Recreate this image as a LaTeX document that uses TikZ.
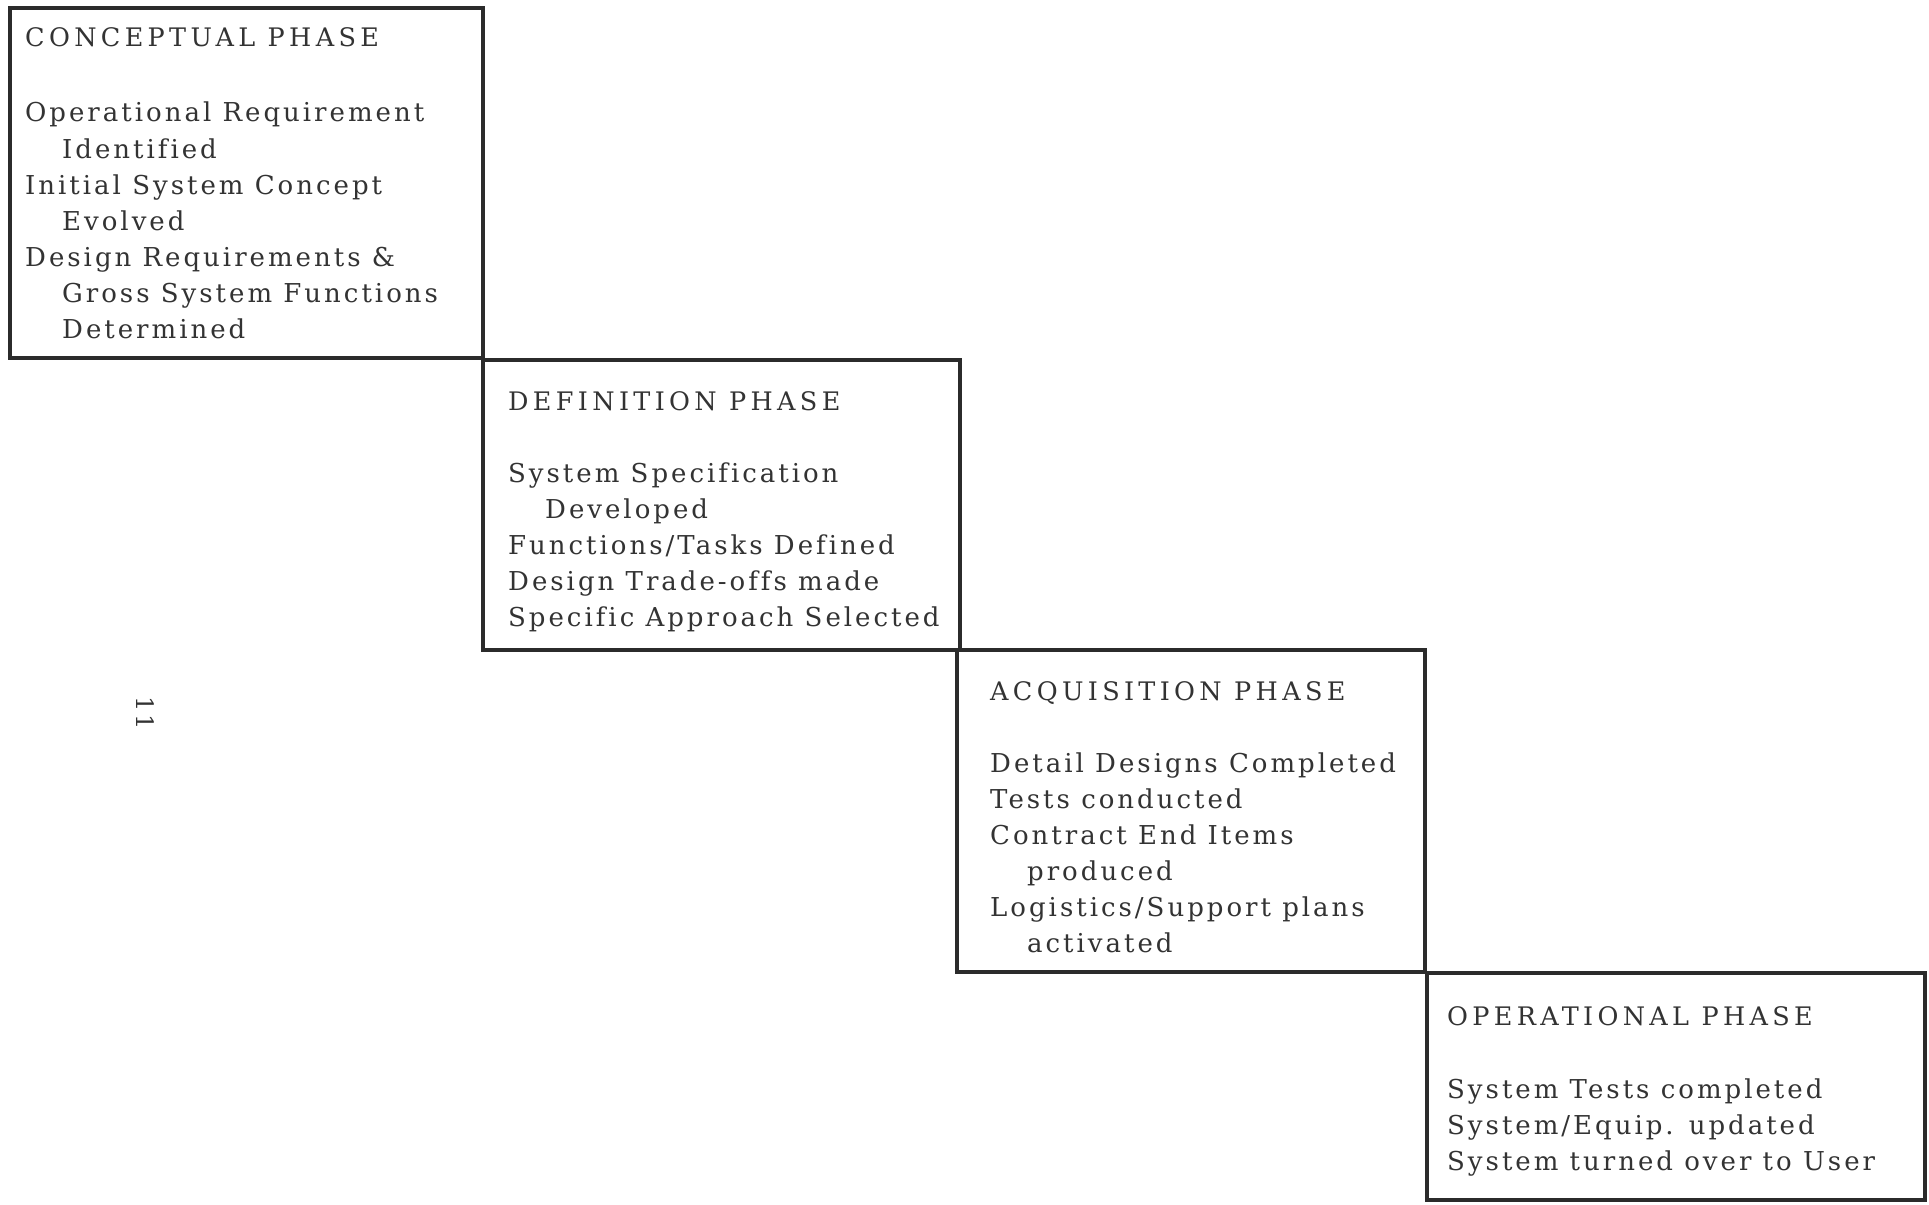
\documentclass[tikz,border=0pt]{standalone}
\usepackage{fontspec}
\setmainfont{DejaVu Serif}
\newfontfamily\bodyfont[LetterSpace=11.5,Ligatures=NoCommon]{DejaVu Serif}
\newfontfamily\headfont[LetterSpace=17,Ligatures=NoCommon]{DejaVu Serif}
\definecolor{ink}{HTML}{2B2B2B}
\definecolor{txt}{HTML}{333333}
\newcommand\ind{\hspace*{37pt}}
\begin{document}
\begin{tikzpicture}[x=1pt,y=-1pt,
  phasebox/.style={draw=ink,line width=3.5pt,rectangle,anchor=north west,inner sep=0pt,outer sep=0pt},
  phasetitle/.style={anchor=base west,inner sep=0pt,text=txt,font=\headfont\fontsize{25.5}{36}\selectfont},
  phasebody/.style={anchor=base west,inner sep=0pt,text=txt,font=\bodyfont\fontsize{26}{36}\selectfont}]
\useasboundingbox (0,0) rectangle (1929,1204);
\fill[white] (0,0) rectangle (1929,1204);
% boxes
\node[phasebox,minimum width=473pt,minimum height=350pt] (conc) at (10,8) {};
\node[phasebox,minimum width=477pt,minimum height=290pt] (defi) at (483,360) {};
\node[phasebox,minimum width=468pt,minimum height=322pt] (acqu) at (957,650) {};
\node[phasebox,minimum width=498pt,minimum height=227pt] (oper) at (1427,973) {};
% titles
\node[phasetitle] (conct) at (25,47) {CONCEPTUAL PHASE};
\node[phasetitle] (defit) at (508,410) {DEFINITION PHASE};
\node[phasetitle] (acqut) at (990,700) {ACQUISITION PHASE};
\node[phasetitle] (opert) at (1447,1025) {OPERATIONAL PHASE};
% bodies
\node[phasebody] (concb) at (25,122) {\parbox[t]{455pt}{Operational Requirement\\
\ind Identified\\
Initial System Concept\\
\ind Evolved\\
Design Requirements \&\\
\ind Gross System Functions\\
\ind Determined}};
\node[phasebody] (defib) at (508,482) {\parbox[t]{455pt}{System Specification\\
\ind Developed\\
Functions/Tasks Defined\\
Design Trade-offs made\\
Specific Approach Selected}};
\node[phasebody] (acqub) at (990,772) {\parbox[t]{455pt}{Detail Designs Completed\\
Tests conducted\\
Contract End Items\\
\ind produced\\
Logistics/Support plans\\
\ind activated}};
\node[phasebody] (operb) at (1447,1098) {\parbox[t]{470pt}{System Tests completed\\
System/Equip. updated\\
System turned over to User}};
% page number
\node[rotate=-90,text=txt,font=\bodyfont\fontsize{24}{30}\selectfont] (pagenum) at (145,713) {11};
\end{tikzpicture}
\end{document}
